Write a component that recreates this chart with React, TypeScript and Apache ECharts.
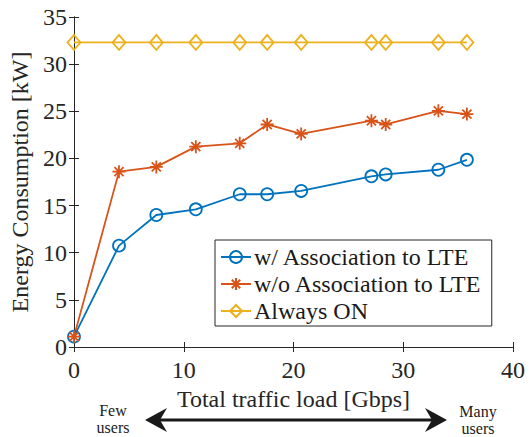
import React, { useEffect, useRef } from "react";
import * as echarts from "echarts";

const xLoad = [0, 4.1, 7.5, 11.1, 15.1, 17.6, 20.7, 27.1, 28.4, 33.2, 35.8];
const withLTE = [1.1, 10.75, 14.0, 14.6, 16.2, 16.2, 16.55, 18.1, 18.3, 18.8, 19.85];
const withoutLTE = [1.1, 18.6, 19.1, 21.25, 21.6, 23.6, 22.6, 24.0, 23.6, 25.05, 24.7];
const alwaysOn = [32.3, 32.3, 32.3, 32.3, 32.3, 32.3, 32.3, 32.3, 32.3, 32.3, 32.3];

const seriesNames = ["w/ Association to LTE", "w/o Association to LTE", "Always ON"];
const xTicks = [0, 10, 20, 30, 40];
const yTicks = [0, 5, 10, 15, 20, 25, 30, 35];

const FONT = "Liberation Serif";
const AX = "#262626";
const BLUE = "#0072BD";
const RED = "#D95319";
const YELLOW = "#EDB120";
const ASTERISK = "path://M10 0 L10 20 M0 10 L20 10 M3 3 L17 17 M3 17 L17 3";

export default function App() {
  const ref = useRef<HTMLDivElement>(null);
  useEffect(() => {
    if (!ref.current) return;
    const chart = echarts.init(ref.current, null, { renderer: "svg" });
    const mk = (ys: number[]) => xLoad.map((x, i) => [x, ys[i]]);
    const axisCommon = {
      type: "value" as const,
      axisLine: { show: true, lineStyle: { color: AX, width: 1 } },
      axisTick: { show: true, inside: true, length: 5, lineStyle: { color: AX, width: 1 } },
      splitLine: { show: false },
    };
    const series = [
      { name: seriesNames[0], data: mk(withLTE), color: BLUE, symbol: "circle", symbolSize: 12 },
      { name: seriesNames[1], data: mk(withoutLTE), color: RED, symbol: ASTERISK, symbolSize: 13 },
      { name: seriesNames[2], data: mk(alwaysOn), color: YELLOW, symbol: "diamond", symbolSize: [13, 15] },
    ].map((s) => ({
      type: "line",
      name: s.name,
      data: s.data,
      symbol: s.symbol,
      symbolSize: s.symbolSize,
      symbolKeepAspect: true,
      showAllSymbol: true,
      lineStyle: { color: s.color, width: 1.8 },
      itemStyle: { color: "rgba(255,255,255,0)", borderColor: s.color, borderWidth: 1.8 },
      emphasis: { disabled: true },
      clip: false,
    }));
    const note = (text: string, x: number, y: number) => ({
      type: "text",
      style: {
        text,
        x,
        y,
        align: "center",
        verticalAlign: "middle",
        fontSize: 16,
        fontFamily: FONT,
        fill: "#1a1a1a",
      },
    });
    chart.setOption({
      animation: false,
      textStyle: { fontFamily: FONT },
      grid: { left: 74, right: 18, top: 17, bottom: 90 },
      xAxis: [
        {
          ...axisCommon,
          position: "bottom",
          min: xTicks[0],
          max: xTicks[xTicks.length - 1],
          interval: 10,
          axisLabel: { color: AX, fontSize: 24, fontFamily: FONT, margin: 11 },
          name: "Total traffic load [Gbps]",
          nameLocation: "middle",
          nameGap: 38,
          nameTextStyle: { color: AX, fontSize: 24, fontFamily: FONT },
        },
        {
          ...axisCommon,
          position: "top",
          min: xTicks[0],
          max: xTicks[xTicks.length - 1],
          interval: 10,
          axisLabel: { show: false },
        },
      ],
      yAxis: [
        {
          ...axisCommon,
          position: "left",
          min: yTicks[0],
          max: yTicks[yTicks.length - 1],
          interval: 5,
          axisLabel: { color: AX, fontSize: 24, fontFamily: FONT, margin: 7 },
          name: "Energy Consumption [kW]",
          nameLocation: "middle",
          nameGap: 38,
          nameTextStyle: { color: AX, fontSize: 24, fontFamily: FONT },
        },
        {
          ...axisCommon,
          position: "right",
          min: yTicks[0],
          max: yTicks[yTicks.length - 1],
          interval: 5,
          axisLabel: { show: false },
        },
      ],
      legend: {
        orient: "vertical",
        left: 215,
        top: 240,
        padding: [5, 10, 3, 5],
        itemGap: 3,
        itemWidth: 30,
        itemHeight: 15,
        backgroundColor: "#fff",
        borderColor: AX,
        borderWidth: 1,
        borderRadius: 0,
        textStyle: { color: "#1a1a1a", fontSize: 24, fontFamily: FONT, padding: [0, 0, 0, -2] },
        data: seriesNames,
      },
      series,
      graphic: [
        { type: "line", shape: { x1: 160, y1: 420, x2: 432, y2: 420 }, style: { stroke: "#1a1a1a", lineWidth: 3 } },
        {
          type: "polygon",
          shape: { points: [[145, 420], [167, 408], [160, 420], [167, 432]] },
          style: { fill: "#1a1a1a" },
        },
        {
          type: "polygon",
          shape: { points: [[447, 420], [425, 408], [432, 420], [425, 432]] },
          style: { fill: "#1a1a1a" },
        },
        note("Few", 113, 410.5),
        note("users", 113, 427),
        note("Many", 478, 411.5),
        note("users", 478, 428),
      ],
    });
    return () => chart.dispose();
  }, []);
  return <div ref={ref} style={{ width: 531, height: 437, position: "absolute", left: 0, top: 0 }} />;
}
